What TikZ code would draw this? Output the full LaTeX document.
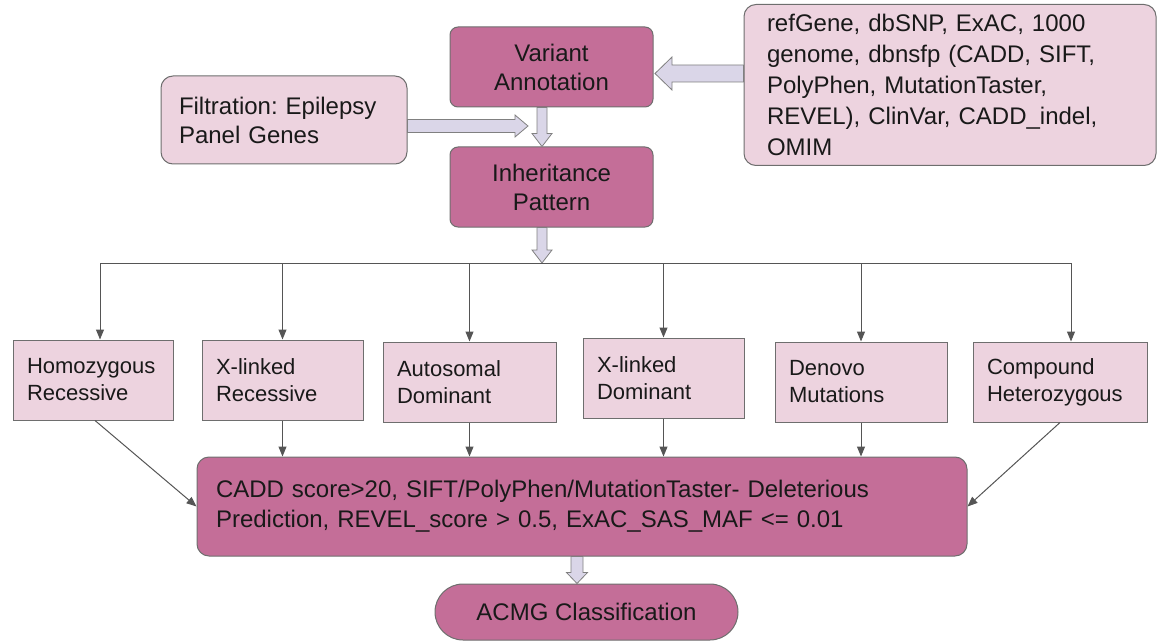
\documentclass[tikz,border=0pt]{standalone}
\usepackage{fontspec}
\setmainfont{Liberation Sans}
\usetikzlibrary{arrows.meta, calc}
\frenchspacing

\definecolor{darkrose}{HTML}{C46E98}
\definecolor{lightrose}{HTML}{EDD3DF}
\definecolor{edgegray}{HTML}{6E6E6E}
\definecolor{lavender}{HTML}{DAD6E8}
\definecolor{linkgray}{HTML}{555555}

% block arrow: from, to, half shaft, half head, head length
\newcommand{\fatarrow}[5]{%
  \coordinate (fa-b) at ($(#2)!#5!(#1)$);
  \draw[fat] ($(#1)!#3!90:(#2)$) -- ($(fa-b)!#3!90:(#2)$) -- ($(fa-b)!#4!90:(#2)$)
    -- (#2) -- ($(fa-b)!#4!-90:(#2)$) -- ($(fa-b)!#3!-90:(#2)$) -- ($(#1)!#3!-90:(#2)$) -- cycle;}

\begin{document}
\begin{tikzpicture}[x=0.5pt, y=-0.5pt, line width=0.5pt, text=black!90,
    stage/.style={draw=edgegray, fill=darkrose, rounded corners=4pt, align=center,
      font=\fontsize{12}{14.5}\selectfont, minimum width=101.5pt, minimum height=40pt, inner sep=0pt},
    source/.style={draw=edgegray, fill=lightrose, rounded corners=6pt, align=left,
      font=\fontsize{12}{14.5}\selectfont, inner xsep=9pt},
    inh/.style={draw=edgegray, fill=lightrose, align=left, text width=#1,
      font=\fontsize{11}{13.5}\selectfont, inner xsep=7pt, minimum height=40pt},
    link/.style={draw=linkgray, -{Triangle[length=5pt,width=4pt]}},
    fat/.style={draw=gray, fill=lavender, line width=0.4pt}]

  \useasboundingbox (0,0) rectangle (1157,642);

  % Annotation and inheritance
  \node[stage] (va) at (551.5,67) {Variant\\Annotation};
  \node[stage] (ip) at (551.5,187) {Inheritance\\Pattern};
  \node[source, text width=105pt, minimum height=44pt] (filt) at (284,120)
    {Filtration: Epilepsy\\Panel Genes};
  \node[source, text width=183pt, inner xsep=11.5pt, inner ysep=2pt, minimum height=80.5pt,
    font=\fontsize{12}{15.5}\selectfont] (db) at (950,85)
    {refGene, dbSNP, ExAC, 1000\\genome, dbnsfp (CADD, SIFT,\\PolyPhen, MutationTaster,\\REVEL), ClinVar, CADD\_indel,\\OMIM};

  % Inheritance models
  \node[inh=66pt] (homo) at (93,380) {Homozygous\\Recessive};
  \node[inh=66.5pt] (xrec) at (282.5,380) {X-linked\\Recessive};
  \node[inh=72.5pt] (auto) at (469.5,382) {Autosomal\\Dominant};
  \node[inh=66.5pt] (xdom) at (663.5,378) {X-linked\\Dominant};
  \node[inh=72pt] (denovo) at (861,382) {Denovo\\Mutations};
  \node[inh=73pt] (comp) at (1060,382) {Compound\\Heterozygous};

  % Filters and classification
  \node[draw=edgegray, fill=darkrose, rounded corners=6pt, align=left, text width=366pt,
    inner xsep=9.5pt, minimum height=49.5pt, font=\fontsize{12}{15}\selectfont] (cadd) at (582,506.5)
    {CADD score>20, SIFT/PolyPhen/MutationTaster- Deleterious\\Prediction, REVEL\_score > 0.5, ExAC\_SAS\_MAF <= 0.01};
  \node[draw=edgegray, fill=darkrose, rounded corners=14pt, minimum width=151.5pt, minimum height=28pt,
    font=\fontsize{12}{14.5}\selectfont] (acmg) at (586.5,612) {ACMG Classification};

  % Block arrows
  \coordinate (dbtip) at (655,73.5);
  \coordinate (dbtail) at (db.west |- dbtip);
  \fatarrow{dbtail}{dbtip}{4.25pt}{8.25pt}{8.5pt}
  \coordinate (filttip) at (528,126);
  \coordinate (filttail) at (filt.east |- filttip);
  \fatarrow{filttail}{filttip}{3.25pt}{5.5pt}{6.5pt}
  \coordinate (vatail) at ([xshift=-4.75pt]va.south);
  \coordinate (iptop) at (vatail |- ip.north);
  \fatarrow{vatail}{iptop}{2.5pt}{5pt}{6.5pt}
  \coordinate (iptail) at ([xshift=-4.75pt]ip.south);
  \coordinate (split) at (542,263);
  \fatarrow{iptail}{split}{2.5pt}{5pt}{6.5pt}
  \coordinate (caddtail) at ([xshift=-2.5pt]cadd.south);
  \coordinate (acmgtop) at (caddtail |- acmg.north);
  \fatarrow{caddtail}{acmgtop}{3pt}{5.25pt}{5.5pt}

  % Branches
  \draw[link] (split) -| ([xshift=3.5pt]homo.north);
  \foreach \b in {xrec, auto, xdom, denovo}
    \draw[link] (split) -| (\b.north);
  \draw[link] (split) -| ([xshift=5.5pt]comp.north);

  \foreach \b in {xrec, auto, xdom, denovo}
    \draw[link] (\b.south) -- (\b.south |- cadd.north);
  \draw[link] ([xshift=1pt]homo.south) -- (cadd.west);
  \draw[link] (comp.south) -- (cadd.east);

\end{tikzpicture}
\end{document}
